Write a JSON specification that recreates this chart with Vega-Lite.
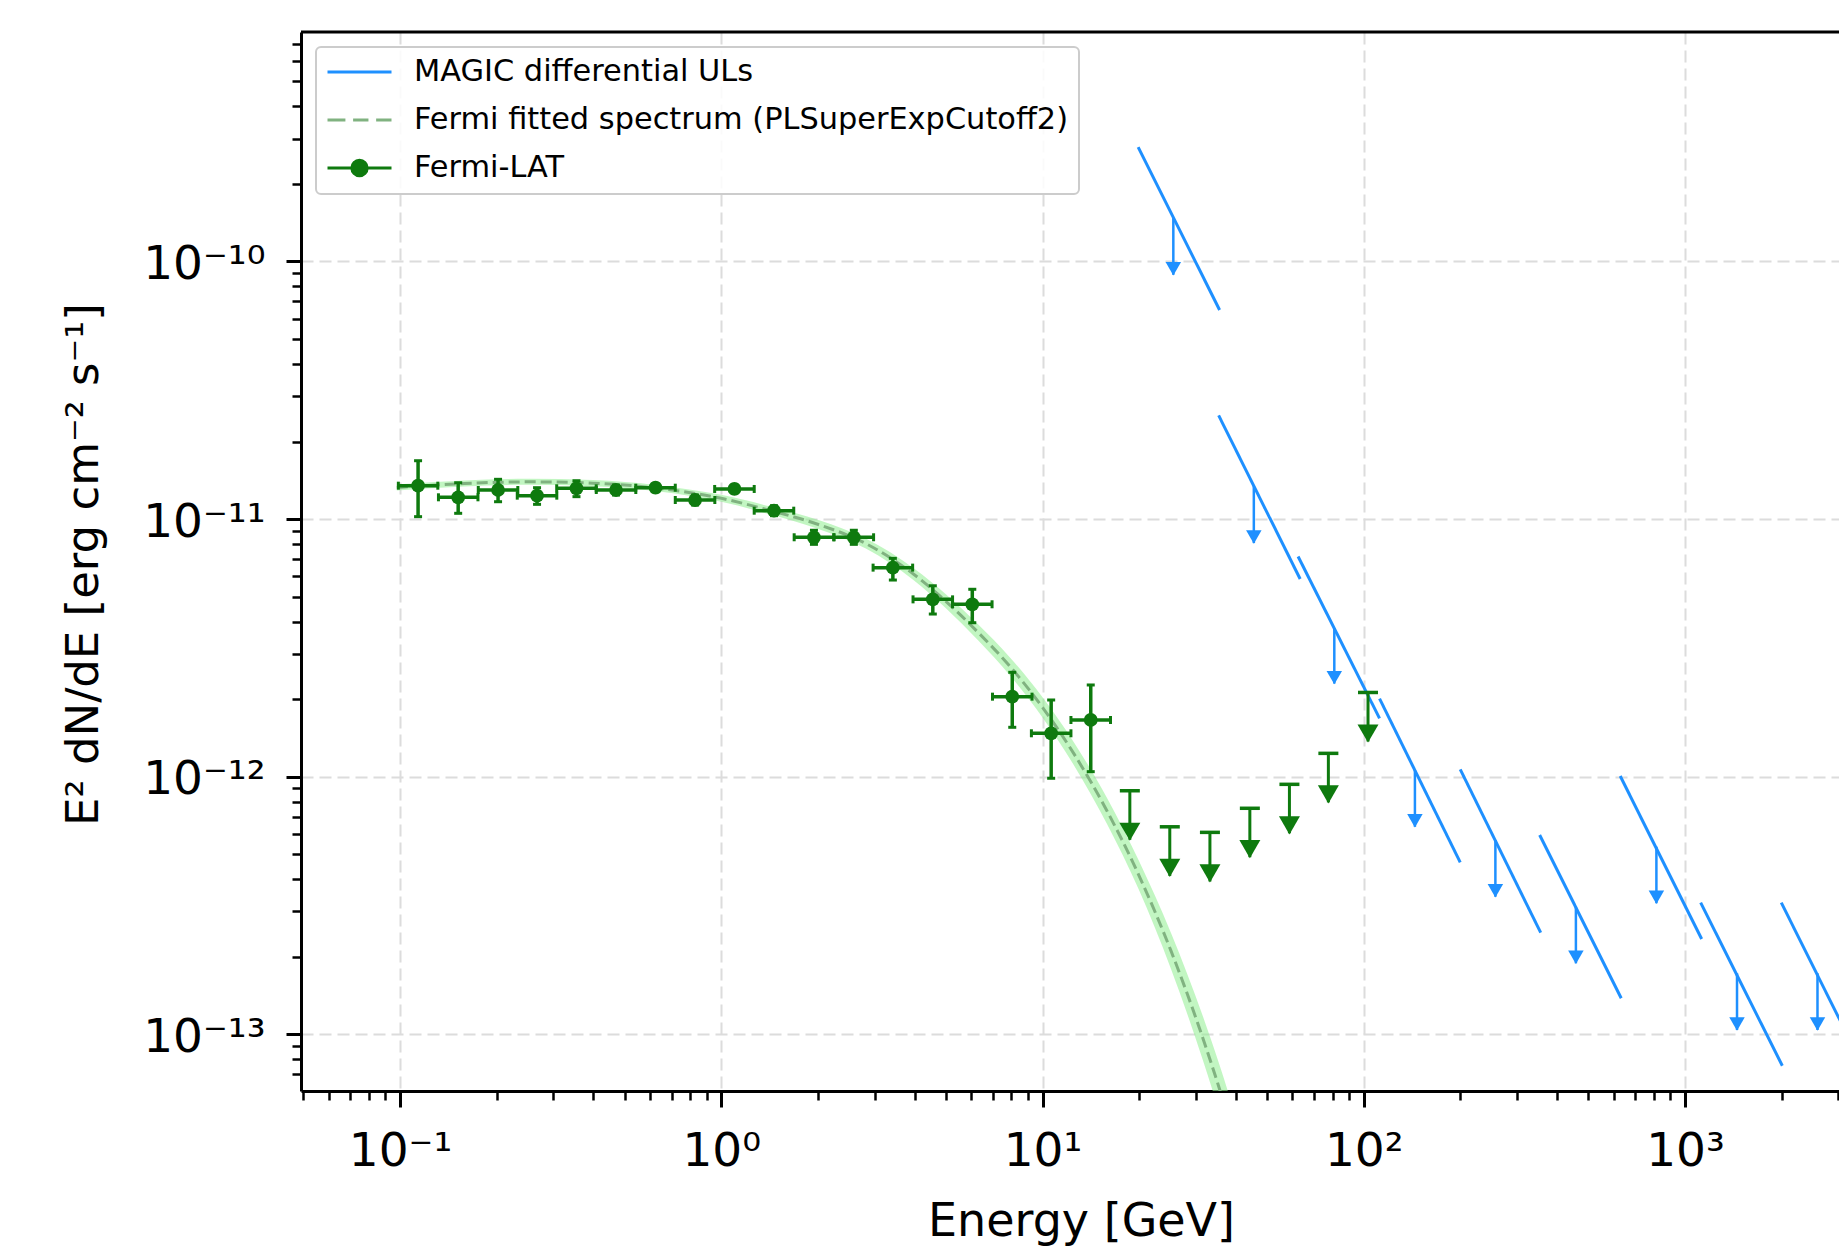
{
  "$schema": "https://vega.github.io/schema/vega-lite/v6.json",
  "autosize": {"type": "none"},
  "width": 1538,
  "height": 1059,
  "padding": {"left": 301, "top": 32, "right": 0, "bottom": 167},
  "background": "white",
  "datasets": {
    "fermi": [
      {"E":0.1138,"Elo":0.0988,"Ehi":0.1311,"F":1.348e-11,"Flo":1.022e-11,"Fhi":1.685e-11},
      {"E":0.1517,"Elo":0.1317,"Ehi":0.1748,"F":1.215e-11,"Flo":1.053e-11,"Fhi":1.384e-11},
      {"E":0.2019,"Elo":0.1752,"Ehi":0.2326,"F":1.297e-11,"Flo":1.168e-11,"Fhi":1.427e-11},
      {"E":0.2670,"Elo":0.2317,"Ehi":0.3076,"F":1.233e-11,"Flo":1.141e-11,"Fhi":1.324e-11},
      {"E":0.3542,"Elo":0.3074,"Ehi":0.4081,"F":1.317e-11,"Flo":1.222e-11,"Fhi":1.409e-11},
      {"E":0.4703,"Elo":0.4082,"Ehi":0.5419,"F":1.297e-11,"Flo":1.240e-11,"Fhi":1.356e-11},
      {"E":0.6241,"Elo":0.5417,"Ehi":0.7191,"F":1.324e-11,"Flo":1.277e-11,"Fhi":1.372e-11},
      {"E":0.8287,"Elo":0.7192,"Ehi":0.9548,"F":1.186e-11,"Flo":1.134e-11,"Fhi":1.240e-11},
      {"E":1.099,"Elo":0.9538,"Ehi":1.2663,"F":1.309e-11,"Flo":1.263e-11,"Fhi":1.357e-11},
      {"E":1.459,"Elo":1.2663,"Ehi":1.6811,"F":1.078e-11,"Flo":1.031e-11,"Fhi":1.127e-11},
      {"E":1.943,"Elo":1.6863,"Ehi":2.2387,"F":8.50e-12,"Flo":7.98e-12,"Fhi":9.05e-12},
      {"E":2.586,"Elo":2.2444,"Ehi":2.9796,"F":8.50e-12,"Flo":7.98e-12,"Fhi":9.05e-12},
      {"E":3.421,"Elo":2.969,"Ehi":3.942,"F":6.48e-12,"Flo":5.80e-12,"Fhi":7.04e-12},
      {"E":4.555,"Elo":3.953,"Ehi":5.248,"F":4.88e-12,"Flo":4.28e-12,"Fhi":5.51e-12},
      {"E":6.045,"Elo":5.246,"Ehi":6.965,"F":4.67e-12,"Flo":3.96e-12,"Fhi":5.34e-12},
      {"E":8.05,"Elo":6.987,"Ehi":9.275,"F":2.045e-12,"Flo":1.555e-12,"Fhi":2.542e-12},
      {"E":10.64,"Elo":9.234,"Ehi":12.26,"F":1.474e-12,"Flo":9.86e-13,"Fhi":1.985e-12},
      {"E":14.13,"Elo":12.26,"Ehi":16.28,"F":1.660e-12,"Flo":1.046e-12,"Fhi":2.270e-12}
    ],
    "ul": [
      {"E":18.7,"F":8.82e-13,"tip":5.69e-13},
      {"E":24.9,"F":6.39e-13,"tip":4.12e-13},
      {"E":33.2,"F":6.08e-13,"tip":3.92e-13},
      {"E":44.2,"F":7.54e-13,"tip":4.87e-13},
      {"E":58.7,"F":9.34e-13,"tip":6.03e-13},
      {"E":77.6,"F":1.232e-12,"tip":7.95e-13},
      {"E":103.1,"F":2.123e-12,"tip":1.370e-12}
    ],
    "magic": [
      {"E1":19.85,"E2":35.59,"F1":2.778e-10,"F2":6.48e-11,"Ea":25.54,"Fa":1.474e-10,"tip":8.88e-11},
      {"E1":35.34,"E2":63.39,"F1":2.527e-11,"F2":5.853e-12,"Ea":45.48,"Fa":1.341e-11,"tip":8.07e-12},
      {"E1":62.47,"E2":112.0,"F1":7.16e-12,"F2":1.685e-12,"Ea":80.97,"Fa":3.775e-12,"tip":2.298e-12},
      {"E1":112.0,"E2":199.7,"F1":2.009e-12,"F2":4.65e-13,"Ea":144.3,"Fa":1.062e-12,"tip":6.39e-13},
      {"E1":199.7,"E2":355.5,"F1":1.068e-12,"F2":2.480e-13,"Ea":256.9,"Fa":5.68e-13,"tip":3.42e-13},
      {"E1":352.9,"E2":633.0,"F1":5.94e-13,"F2":1.380e-13,"Ea":457.5,"Fa":3.127e-13,"tip":1.886e-13},
      {"E1":628.5,"E2":1127,"F1":1.006e-12,"F2":2.344e-13,"Ea":814.7,"Fa":5.35e-13,"tip":3.226e-13},
      {"E1":1119,"E2":2009,"F1":3.243e-13,"F2":7.55e-14,"Ea":1452,"Fa":1.725e-13,"tip":1.039e-13},
      {"E1":1994,"E2":3575,"F1":3.243e-13,"F2":7.55e-14,"Ea":2585,"Fa":1.725e-13,"tip":1.039e-13}
    ],
    "fit": [
      {"E":0.09772,"F":1.326e-11,"lo":1.291e-11,"hi":1.362e-11},
      {"E":0.1585,"F":1.3745e-11,"lo":1.338e-11,"hi":1.412e-11},
      {"E":0.2512,"F":1.395e-11,"lo":1.358e-11,"hi":1.433e-11},
      {"E":0.3981,"F":1.379e-11,"lo":1.342e-11,"hi":1.417e-11},
      {"E":0.6310,"F":1.318e-11,"lo":1.283e-11,"hi":1.354e-11},
      {"E":1.0,"F":1.204e-11,"lo":1.167e-11,"hi":1.242e-11},
      {"E":1.4125,"F":1.082e-11,"lo":1.044e-11,"hi":1.121e-11},
      {"E":1.9953,"F":9.55e-12,"lo":9.17e-12,"hi":9.94e-12},
      {"E":2.8184,"F":8.035e-12,"lo":7.68e-12,"hi":8.40e-12},
      {"E":3.9811,"F":6.095e-12,"lo":5.78e-12,"hi":6.43e-12},
      {"E":5.0119,"F":4.786e-12,"lo":4.50e-12,"hi":5.10e-12},
      {"E":6.3096,"F":3.626e-12,"lo":3.376e-12,"hi":3.895e-12},
      {"E":7.9433,"F":2.668e-12,"lo":2.462e-12,"hi":2.892e-12},
      {"E":10.0,"F":1.858e-12,"lo":1.699e-12,"hi":2.032e-12},
      {"E":12.589,"F":1.215e-12,"lo":1.096e-12,"hi":1.346e-12},
      {"E":15.849,"F":7.396e-13,"lo":6.585e-13,"hi":8.307e-13},
      {"E":19.953,"F":4.142e-13,"lo":3.638e-13,"hi":4.715e-13},
      {"E":25.119,"F":2.107e-13,"lo":1.794e-13,"hi":2.475e-13},
      {"E":31.623,"F":9.590e-14,"lo":7.877e-14,"hi":1.1675e-13},
      {"E":35.481,"F":6.190e-14,"lo":4.994e-14,"hi":7.672e-14},
      {"E":39.811,"F":3.851e-14,"lo":3.052e-14,"hi":4.859e-14}
    ]
  },
  "layer": [
    {
      "data": {"name": "fit"},
      "mark": {"type": "area", "color": "#90ee90", "opacity": 0.55, "interpolate": "monotone", "clip": true},
      "encoding": {
        "x": {"field": "E", "type": "quantitative",
          "scale": {"type": "log", "domain": [0.04917, 3016], "nice": false},
          "axis": {
            "values": [0.05,0.06,0.07,0.08,0.09,0.1,0.2,0.3,0.4,0.5,0.6,0.7,0.8,0.9,1,2,3,4,5,6,7,8,9,10,20,30,40,50,60,70,80,90,100,200,300,400,500,600,700,800,900,1000,2000,3000],
            "labelExpr": "datum.value == 0.1 ? '10⁻¹' : datum.value == 1 ? '10⁰' : datum.value == 10 ? '10¹' : datum.value == 100 ? '10²' : datum.value == 1000 ? '10³' : ''",
            "labelOverlap": false, "labelFlush": false, "labelBound": false,
            "labelFont": "DejaVu Sans", "labelFontSize": 47, "labelColor": "#000000",
            "labelBaseline": "alphabetic", "labelAlign": "center", "labelPadding": 58,
            "tickSize": {"condition": {"test": "indexof([0.1,1,10,100,1000], datum.value) >= 0", "value": 16}, "value": 9},
            "tickWidth": {"condition": {"test": "indexof([0.1,1,10,100,1000], datum.value) >= 0", "value": 3}, "value": 2.5},
            "tickColor": "#000000",
            "grid": true, "gridColor": "#dcdcdc", "gridWidth": 2, "gridDash": [12, 6],
            "gridOpacity": {"condition": {"test": "indexof([0.1,1,10,100,1000], datum.value) >= 0", "value": 1}, "value": 0},
            "domainColor": "#000000", "domainWidth": 3,
            "title": "Energy [GeV]", "titleFont": "DejaVu Sans", "titleFontSize": 46, "titleFontWeight": "normal",
            "titleColor": "#000000", "titleX": 780, "titleY": 144, "titleBaseline": "alphabetic", "titleAlign": "center"
          }
        },
        "y": {"field": "lo", "type": "quantitative",
          "scale": {"type": "log", "domain": [6.024e-14, 7.778e-10], "nice": false},
          "axis": {
            "values": [7e-14,8e-14,9e-14,1e-13,2e-13,3e-13,4e-13,5e-13,6e-13,7e-13,8e-13,9e-13,1e-12,2e-12,3e-12,4e-12,5e-12,6e-12,7e-12,8e-12,9e-12,1e-11,2e-11,3e-11,4e-11,5e-11,6e-11,7e-11,8e-11,9e-11,1e-10,2e-10,3e-10,4e-10,5e-10,6e-10,7e-10],
            "labelExpr": "datum.value == 1e-10 ? '10⁻¹⁰' : datum.value == 1e-11 ? '10⁻¹¹' : datum.value == 1e-12 ? '10⁻¹²' : datum.value == 1e-13 ? '10⁻¹³' : ''",
            "labelOverlap": false, "labelFlush": false, "labelBound": false,
            "labelFont": "DejaVu Sans", "labelFontSize": 47, "labelColor": "#000000",
            "labelBaseline": "alphabetic", "labelAlign": "right", "labelPadding": 21, "labelOffset": 17,
            "tickSize": {"condition": {"test": "indexof([1e-13,1e-12,1e-11,1e-10], datum.value) >= 0", "value": 15}, "value": 9},
            "tickWidth": {"condition": {"test": "indexof([1e-13,1e-12,1e-11,1e-10], datum.value) >= 0", "value": 3}, "value": 2.5},
            "tickColor": "#000000",
            "grid": true, "gridColor": "#dcdcdc", "gridWidth": 2, "gridDash": [12, 6],
            "gridOpacity": {"condition": {"test": "indexof([1e-13,1e-12,1e-11,1e-10], datum.value) >= 0", "value": 1}, "value": 0},
            "domainColor": "#000000", "domainWidth": 3,
            "title": "E² dN/dE [erg cm⁻² s⁻¹]", "titleFont": "DejaVu Sans", "titleFontSize": 45, "titleFontWeight": "normal",
            "titleColor": "#000000", "titleX": -204, "titleY": 532, "titleAngle": 270, "titleBaseline": "alphabetic", "titleAlign": "center"
          }
        },
        "y2": {"field": "hi"}
      }
    },
    {
      "data": {"name": "fit"},
      "mark": {"type": "line", "strokeDash": [11, 5], "strokeWidth": 3, "interpolate": "monotone", "clip": true},
      "encoding": {
        "x": {"field": "E", "type": "quantitative", "scale": {"type": "log", "domain": [0.04917, 3016], "nice": false}},
        "y": {"field": "F", "type": "quantitative", "scale": {"type": "log", "domain": [6.024e-14, 7.778e-10], "nice": false}},
        "color": {"datum": "Fermi fitted spectrum (PLSuperExpCutoff2)", "type": "nominal",
          "scale": {"domain": ["MAGIC differential ULs", "Fermi fitted spectrum (PLSuperExpCutoff2)", "Fermi-LAT"], "range": ["#1e90ff", "#80b280", "#0e7a0e"]},
          "legend": {
            "orient": "top-left", "offset": 15, "title": null,
            "padding": 10, "rowPadding": 17, "clipHeight": 30,
            "strokeColor": "#cccccc", "fillColor": "rgba(255,255,255,0.85)", "cornerRadius": 5,
            "labelFont": "DejaVu Sans", "labelFontSize": 30.4, "labelColor": "#000000", "labelLimit": 1000, "labelOffset": 21,
            "symbolSize": 4096, "symbolStrokeWidth": 3,
            "encode": {
              "symbols": {"update": {
                "shape": {"signal": "datum.value === 'Fermi-LAT' ? 'M-1,0H1M-0.24,0A0.24,0.24,0,1,0,0.24,0A0.24,0.24,0,1,0,-0.24,0Z' : (datum.value === 'MAGIC differential ULs' ? 'M-1,0H1' : 'M-1,0H-0.44M-0.2,0H0.28M0.52,0H1')"},
                "fill": {"signal": "datum.value === 'Fermi-LAT' ? '#0e7a0e' : 'transparent'"},
                "stroke": {"signal": "datum.value === 'Fermi-LAT' ? '#0e7a0e' : (datum.value === 'MAGIC differential ULs' ? '#1e90ff' : '#80b280')"},
                "strokeWidth": {"value": 3},
                "strokeDash": {"value": []},
                "opacity": {"value": 1}
              }},
              "legend": {"update": {"strokeWidth": {"value": 2}}}
            }
          }
        }
      }
    },
    {
      "data": {"name": "magic"},
      "mark": {"type": "rule", "strokeWidth": 3, "clip": true},
      "encoding": {
        "x": {"field": "E1", "type": "quantitative", "scale": {"type": "log", "domain": [0.04917, 3016], "nice": false}},
        "x2": {"field": "E2"},
        "y": {"field": "F1", "type": "quantitative", "scale": {"type": "log", "domain": [6.024e-14, 7.778e-10], "nice": false}},
        "y2": {"field": "F2"},
        "color": {"datum": "MAGIC differential ULs", "type": "nominal",
          "scale": {"domain": ["MAGIC differential ULs", "Fermi fitted spectrum (PLSuperExpCutoff2)", "Fermi-LAT"], "range": ["#1e90ff", "#80b280", "#0e7a0e"]}}
      }
    },
    {
      "data": {"name": "magic"},
      "mark": {"type": "rule", "strokeWidth": 2.5, "color": "#1e90ff", "clip": true},
      "encoding": {
        "x": {"field": "Ea", "type": "quantitative", "scale": {"type": "log", "domain": [0.04917, 3016], "nice": false}},
        "y": {"field": "Fa", "type": "quantitative", "scale": {"type": "log", "domain": [6.024e-14, 7.778e-10], "nice": false}},
        "y2": {"field": "tip"}
      }
    },
    {
      "data": {"name": "magic"},
      "mark": {"type": "point", "shape": "triangle-down", "filled": true, "size": 240, "color": "#1e90ff", "opacity": 1, "yOffset": -6, "clip": true},
      "encoding": {
        "x": {"field": "Ea", "type": "quantitative", "scale": {"type": "log", "domain": [0.04917, 3016], "nice": false}},
        "y": {"field": "tip", "type": "quantitative", "scale": {"type": "log", "domain": [6.024e-14, 7.778e-10], "nice": false}}
      }
    },
    {
      "data": {"name": "fermi"},
      "mark": {"type": "rule", "strokeWidth": 3.5, "color": "#0e7a0e"},
      "encoding": {
        "x": {"field": "Elo", "type": "quantitative", "scale": {"type": "log", "domain": [0.04917, 3016], "nice": false}},
        "x2": {"field": "Ehi"},
        "y": {"field": "F", "type": "quantitative", "scale": {"type": "log", "domain": [6.024e-14, 7.778e-10], "nice": false}}
      }
    },
    {
      "data": {"name": "fermi"},
      "mark": {"type": "rule", "strokeWidth": 3.5, "color": "#0e7a0e"},
      "encoding": {
        "x": {"field": "E", "type": "quantitative", "scale": {"type": "log", "domain": [0.04917, 3016], "nice": false}},
        "y": {"field": "Flo", "type": "quantitative", "scale": {"type": "log", "domain": [6.024e-14, 7.778e-10], "nice": false}},
        "y2": {"field": "Fhi"}
      }
    },
    {
      "data": {"name": "fermi"},
      "mark": {"type": "point", "shape": "M-1,0H1", "filled": false, "size": 64, "strokeWidth": 3, "color": "#0e7a0e", "opacity": 1},
      "encoding": {
        "x": {"field": "E", "type": "quantitative", "scale": {"type": "log", "domain": [0.04917, 3016], "nice": false}},
        "y": {"field": "Flo", "type": "quantitative", "scale": {"type": "log", "domain": [6.024e-14, 7.778e-10], "nice": false}}
      }
    },
    {
      "data": {"name": "fermi"},
      "mark": {"type": "point", "shape": "M-1,0H1", "filled": false, "size": 64, "strokeWidth": 3, "color": "#0e7a0e", "opacity": 1},
      "encoding": {
        "x": {"field": "E", "type": "quantitative", "scale": {"type": "log", "domain": [0.04917, 3016], "nice": false}},
        "y": {"field": "Fhi", "type": "quantitative", "scale": {"type": "log", "domain": [6.024e-14, 7.778e-10], "nice": false}}
      }
    },
    {
      "data": {"name": "fermi"},
      "mark": {"type": "point", "shape": "M0,-1V1", "filled": false, "size": 64, "strokeWidth": 3, "color": "#0e7a0e", "opacity": 1},
      "encoding": {
        "x": {"field": "Elo", "type": "quantitative", "scale": {"type": "log", "domain": [0.04917, 3016], "nice": false}},
        "y": {"field": "F", "type": "quantitative", "scale": {"type": "log", "domain": [6.024e-14, 7.778e-10], "nice": false}}
      }
    },
    {
      "data": {"name": "fermi"},
      "mark": {"type": "point", "shape": "M0,-1V1", "filled": false, "size": 64, "strokeWidth": 3, "color": "#0e7a0e", "opacity": 1},
      "encoding": {
        "x": {"field": "Ehi", "type": "quantitative", "scale": {"type": "log", "domain": [0.04917, 3016], "nice": false}},
        "y": {"field": "F", "type": "quantitative", "scale": {"type": "log", "domain": [6.024e-14, 7.778e-10], "nice": false}}
      }
    },
    {
      "data": {"name": "fermi"},
      "mark": {"type": "point", "shape": "circle", "filled": true, "size": 190, "opacity": 1},
      "encoding": {
        "x": {"field": "E", "type": "quantitative", "scale": {"type": "log", "domain": [0.04917, 3016], "nice": false}},
        "y": {"field": "F", "type": "quantitative", "scale": {"type": "log", "domain": [6.024e-14, 7.778e-10], "nice": false}},
        "color": {"datum": "Fermi-LAT", "type": "nominal",
          "scale": {"domain": ["MAGIC differential ULs", "Fermi fitted spectrum (PLSuperExpCutoff2)", "Fermi-LAT"], "range": ["#1e90ff", "#80b280", "#0e7a0e"]}}
      }
    },
    {
      "data": {"name": "ul"},
      "mark": {"type": "point", "shape": "M-1,0H1", "filled": false, "size": 400, "strokeWidth": 3.5, "color": "#0e7a0e", "opacity": 1},
      "encoding": {
        "x": {"field": "E", "type": "quantitative", "scale": {"type": "log", "domain": [0.04917, 3016], "nice": false}},
        "y": {"field": "F", "type": "quantitative", "scale": {"type": "log", "domain": [6.024e-14, 7.778e-10], "nice": false}}
      }
    },
    {
      "data": {"name": "ul"},
      "mark": {"type": "rule", "strokeWidth": 3, "color": "#0e7a0e"},
      "encoding": {
        "x": {"field": "E", "type": "quantitative", "scale": {"type": "log", "domain": [0.04917, 3016], "nice": false}},
        "y": {"field": "F", "type": "quantitative", "scale": {"type": "log", "domain": [6.024e-14, 7.778e-10], "nice": false}},
        "y2": {"field": "tip"}
      }
    },
    {
      "data": {"name": "ul"},
      "mark": {"type": "point", "shape": "triangle-down", "filled": true, "size": 441, "color": "#0e7a0e", "opacity": 1, "yOffset": -8},
      "encoding": {
        "x": {"field": "E", "type": "quantitative", "scale": {"type": "log", "domain": [0.04917, 3016], "nice": false}},
        "y": {"field": "tip", "type": "quantitative", "scale": {"type": "log", "domain": [6.024e-14, 7.778e-10], "nice": false}}
      }
    },
    {
      "data": {"values": [{}]},
      "mark": {"type": "rule", "color": "#000000", "strokeWidth": 3},
      "encoding": {
        "y": {"datum": 7.778e-10, "type": "quantitative", "scale": {"type": "log", "domain": [6.024e-14, 7.778e-10], "nice": false}}
      }
    }
  ],
  "config": {
    "view": {"stroke": null},
    "font": "DejaVu Sans"
  }
}
